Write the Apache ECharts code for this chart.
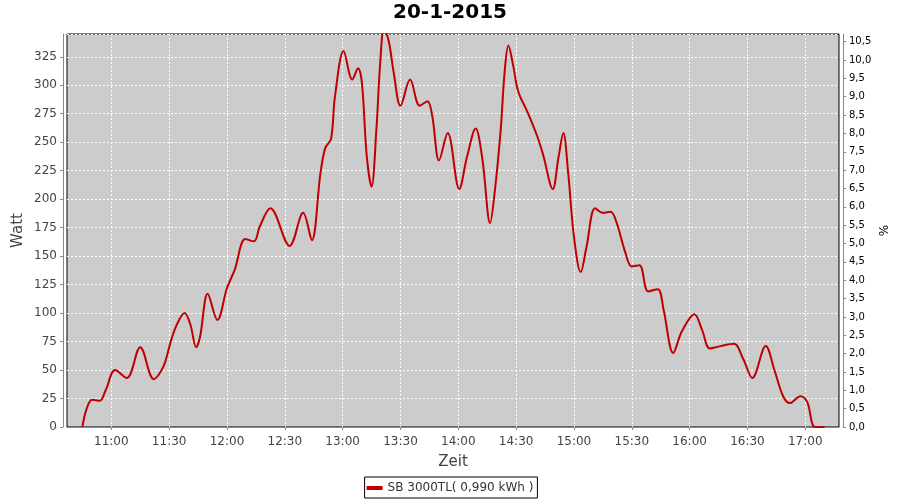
<!DOCTYPE html>
<html>
<head>
<meta charset="utf-8">
<script src="https://cdn.jsdelivr.net/npm/echarts@6/dist/echarts.min.js"></script>
<style>
  html, body { margin: 0; padding: 0; background: #fff; }
  #chart { width: 900px; height: 500px; }
</style>
</head>
<body>
<div id="chart"></div>
<script>
// Chart title / labels
const titleText = '20-1-2015';
const seriesName = 'SB 3000TL( 0,990 kWh )';

// Time stamps (HH:mm:ss) of the samples
const times = [
  '10:45:00','10:47:00','10:50:00','10:54:00','10:57:00','11:02:00','11:08:00','11:15:00',
  '11:22:00','11:27:00','11:31:00','11:34:00','11:38:00','11:41:00','11:44:00','11:46:00',
  '11:50:00','11:55:00','12:00:00','12:04:00','12:09:30','12:14:00','12:17:00','12:22:30',
  '12:32:30','12:39:30','12:44:00','12:48:30','12:51:00','12:54:00','12:56:00','13:00:30',
  '13:05:00','13:08:00','13:10:00','13:12:30','13:15:00','13:17:30','13:19:30','13:21:30',
  '13:24:00','13:26:30','13:30:00','13:35:00','13:40:00','13:44:00','13:46:30','13:50:00',
  '13:54:30','14:00:30','14:04:30','14:09:00','14:12:30','14:16:30','14:19:00','14:22:00',
  '14:24:00','14:26:00','14:28:30','14:31:00','14:36:00','14:41:00','14:44:00','14:49:00',
  '14:52:00','14:54:30','14:57:00','15:00:00','15:03:30','15:06:30','15:11:00','15:15:00',
  '15:19:00','15:22:00','15:26:30','15:30:00','15:34:00','15:38:30','15:43:30','15:46:30',
  '15:51:30','15:56:00','16:02:30','16:06:30','16:10:30','16:16:00','16:23:00','16:28:00',
  '16:32:30','16:39:30','16:44:00','16:48:30','16:52:00','16:57:30','17:01:00','17:05:00',
  '17:10:00'
];

// Power in Watt
const watt = [
  0, 15, 24, 23, 32, 50, 43, 70,
  42, 53, 76, 90, 100, 90, 70, 79,
  117, 94, 122, 138, 165, 163, 176, 192,
  159, 188, 164, 223, 245, 253, 290, 330,
  305, 315, 302, 238, 211, 261, 320, 350,
  338, 311, 282, 305, 282, 286, 273, 234,
  258, 209, 237, 262, 235, 179, 208, 261,
  311, 335, 317, 295, 276, 255, 239, 209,
  237, 258, 223, 167, 136, 158, 192, 188,
  189, 180, 154, 141, 142, 119, 121, 103,
  65, 84, 99, 85, 69, 71, 73, 59,
  43, 71, 50, 27, 21, 27, 22, 0,
  0
];

// X tick labels (time of day)
const timeTicks = ['11:00','11:30','12:00','12:30','13:00','13:30','14:00','14:30',
                   '15:00','15:30','16:00','16:30','17:00'];

// Axis ranges
const xStart = '10:37:00';
const xEnd = '17:17:30';
const wattMax = 345;
const wattStep = 25;
const pctMax = 10.71;
const pctStep = 0.5;

// minutes since midnight
function toMin(s) {
  const p = s.split(':').map(Number);
  return p[0] * 60 + p[1] + (p[2] || 0) / 60;
}
function pad(n) { return (n < 10 ? '0' : '') + n; }
function fmtMin(v) {
  const m = Math.round(v);
  return pad(Math.floor(m / 60)) + ':' + pad(m % 60);
}

const seriesData = times.map((t, i) => [toMin(t), watt[i]]);
const tickValues = timeTicks.map(toMin);

const FONT = 'DejaVu Sans';
const grid = { left: 67, right: 61, top: 34, bottom: 73 };

const chart = echarts.init(document.getElementById('chart'), null, { renderer: 'canvas' });
chart.setOption({
  animation: false,
  backgroundColor: '#ffffff',
  textStyle: { fontFamily: FONT },
  title: {
    text: titleText,
    left: 'center',
    top: 3,
    padding: 0,
    textStyle: { fontFamily: FONT, fontSize: 20, fontWeight: 'bold', color: '#000' }
  },
  legend: {
    data: [{ name: seriesName, icon: 'rect' }],
    left: 'center',
    top: 477,
    padding: [4, 4, 3, 2],
    itemWidth: 16,
    itemHeight: 4,
    itemGap: 5,
    borderColor: '#000',
    borderWidth: 1,
    borderRadius: 0,
    textStyle: { fontFamily: FONT, fontSize: 12, color: '#333', lineHeight: 14 }
  },
  grid: Object.assign({
    show: true,
    backgroundColor: '#cccccc',
    borderColor: '#000',
    borderWidth: 1,
    containLabel: false
  }, grid),
  xAxis: {
    type: 'value',
    min: toMin(xStart),
    max: toMin(xEnd),
    offset: 4,
    name: 'Zeit',
    nameLocation: 'middle',
    nameGap: 24,
    nameMoveOverlap: false,
    nameTextStyle: { fontFamily: FONT, fontSize: 15, color: '#444' },
    axisLine: { show: true, lineStyle: { color: '#888', width: 1 } },
    axisTick: { show: true, length: 3, lineStyle: { color: '#888' }, customValues: tickValues },
    axisLabel: {
      fontFamily: FONT, fontSize: 12, color: '#444', margin: 5,
      customValues: tickValues,
      formatter: fmtMin
    },
    splitLine: { show: true, lineStyle: { color: '#ffffff', width: 1, type: [2, 2] } }
  },
  yAxis: [
    {
      type: 'value',
      min: 0,
      max: wattMax,
      interval: wattStep,
      position: 'left',
      offset: 4,
      name: 'Watt',
      nameLocation: 'middle',
      nameGap: 37,
      nameRotate: 90,
      nameMoveOverlap: false,
      nameTextStyle: { fontFamily: FONT, fontSize: 15, color: '#444' },
      axisLine: { show: true, lineStyle: { color: '#888', width: 1 } },
      axisTick: { show: true, length: 3, lineStyle: { color: '#888' } },
      axisLabel: { fontFamily: FONT, fontSize: 12, color: '#444', margin: 6, showMaxLabel: false },
      splitLine: { show: true, lineStyle: { color: '#ffffff', width: 1, type: [2, 2] } }
    },
    {
      type: 'value',
      min: 0,
      max: pctMax,
      interval: pctStep,
      position: 'right',
      offset: 4,
      name: '%',
      nameLocation: 'middle',
      nameGap: 36,
      nameRotate: 90,
      nameMoveOverlap: false,
      nameTextStyle: { fontFamily: FONT, fontSize: 12, color: '#000' },
      axisLine: { show: true, lineStyle: { color: '#888', width: 1 } },
      axisTick: { show: true, length: 3, lineStyle: { color: '#888' } },
      axisLabel: {
        fontFamily: FONT, fontSize: 10, color: '#000', margin: 6, showMaxLabel: false,
        formatter: function (v) { return v.toFixed(1).replace('.', ','); }
      },
      splitLine: { show: false }
    }
  ],
  series: [
    {
      name: seriesName,
      type: 'line',
      yAxisIndex: 0,
      data: seriesData,
      smooth: 0.35,
      showSymbol: false,
      symbol: 'none',
      clip: true,
      lineStyle: { color: '#c00000', width: 2 },
      itemStyle: { color: '#c00000' }
    }
  ]
});
</script>
</body>
</html>
